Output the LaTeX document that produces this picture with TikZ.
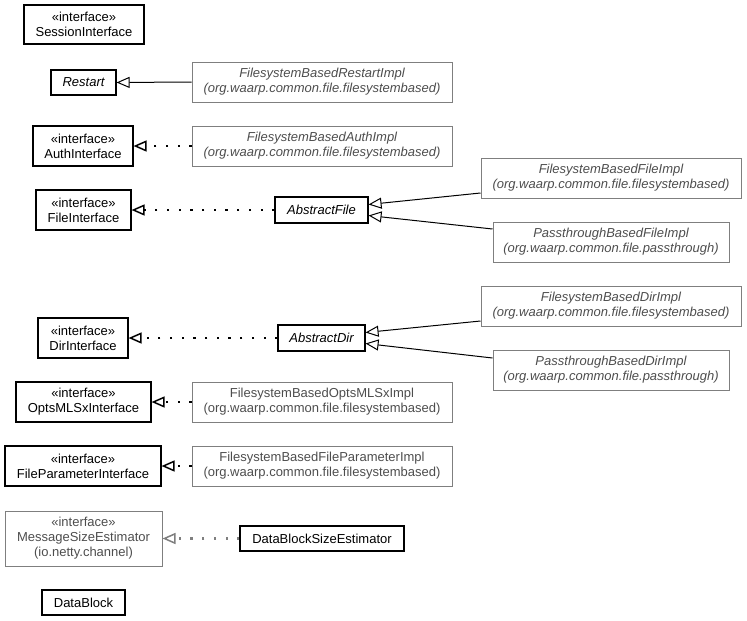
\documentclass[tikz,border=0pt]{standalone}
\usepackage{fontspec}
\setmainfont{Liberation Sans}
\usetikzlibrary{arrows.meta}
\definecolor{gbord}{HTML}{7F7F7F}
\definecolor{gtext}{HTML}{4D4D4D}
\tikzset{
  x=1pt, y=1pt,
  cls/.style={draw=black, line width=1.1pt, inner sep=0pt, align=center,
    font=\fontsize{13}{15}\selectfont, text=black},
  ext/.style={draw=gbord, line width=1pt, inner sep=0pt, align=center,
    font=\fontsize{13}{15}\selectfont, text=gtext},
  inh/.style={draw=black, line width=1pt,
    -{Triangle[open, length=13pt, width=11pt, line width=1pt]}},
  real/.style={draw=black, line width=2.2pt, dash pattern=on 2.2pt off 9.5pt,
    -{Triangle[open, length=13pt, width=11pt, line width=1.5pt]}},
  grealz/.style={draw=gbord, line width=2.2pt, dash pattern=on 2.2pt off 9.5pt,
    -{Triangle[open, length=13pt, width=11pt, line width=1.5pt]}},
}
\begin{document}
\begin{tikzpicture}
\useasboundingbox (0,0) rectangle (747,-621);
% left column
\node[cls, minimum width=120, minimum height=39] (sess) at (84,-24.5) {«interface»\\SessionInterface};
\node[cls, minimum width=65, minimum height=25] (restart) at (83.5,-82.5) {\itshape Restart};
\node[cls, minimum width=100, minimum height=40] (auth) at (83,-146) {«interface»\\AuthInterface};
\node[cls, minimum width=95, minimum height=40] (fileif) at (83.5,-210) {«interface»\\FileInterface};
\node[cls, minimum width=90, minimum height=40] (dirif) at (83,-338) {«interface»\\DirInterface};
\node[cls, minimum width=135, minimum height=40] (opts) at (83.5,-402) {«interface»\\OptsMLSxInterface};
\node[cls, minimum width=156, minimum height=40] (fparam) at (83,-466) {«interface»\\FileParameterInterface};
\node[ext, minimum width=157, minimum height=55] (mse) at (83.5,-538.5) {«interface»\\MessageSizeEstimator\\(io.netty.channel)};
\node[cls, minimum width=83, minimum height=25] (datablock) at (83.5,-602.5) {DataBlock};
% middle column
\node[ext, minimum width=260, minimum height=40] (restartimpl) at (322,-82) {\itshape FilesystemBasedRestartImpl\\\itshape (org.waarp.common.file.filesystembased)};
\node[ext, minimum width=260, minimum height=40] (authimpl) at (322,-146) {\itshape FilesystemBasedAuthImpl\\\itshape (org.waarp.common.file.filesystembased)};
\node[cls, minimum width=93, minimum height=26] (absfile) at (321.5,-210) {\itshape AbstractFile};
\node[cls, minimum width=87, minimum height=26] (absdir) at (321.5,-338) {\itshape AbstractDir};
\node[ext, minimum width=260, minimum height=40] (optsimpl) at (322,-402) {FilesystemBasedOptsMLSxImpl\\(org.waarp.common.file.filesystembased)};
\node[ext, minimum width=260, minimum height=40] (fparamimpl) at (322,-466) {FilesystemBasedFileParameterImpl\\(org.waarp.common.file.filesystembased)};
\node[cls, minimum width=164, minimum height=25] (dbse) at (322,-538.5) {DataBlockSizeEstimator};
% right column
\node[ext, minimum width=260, minimum height=40] (fsfile) at (611,-178) {\itshape FilesystemBasedFileImpl\\\itshape (org.waarp.common.file.filesystembased)};
\node[ext, minimum width=236, minimum height=40] (ptfile) at (611,-242) {\itshape PassthroughBasedFileImpl\\\itshape (org.waarp.common.file.passthrough)};
\node[ext, minimum width=260, minimum height=40] (fsdir) at (611,-306) {\itshape FilesystemBasedDirImpl\\\itshape (org.waarp.common.file.filesystembased)};
\node[ext, minimum width=236, minimum height=40] (ptdir) at (611,-370) {\itshape PassthroughBasedDirImpl\\\itshape (org.waarp.common.file.passthrough)};
% connectors
\draw[inh] (restartimpl.west) -- (restart.east);
\draw[real] (authimpl.west) -- (auth.east);
\draw[real] (absfile.west) -- (fileif.east);
\draw[real] (absdir.west) -- (dirif.east);
\draw[real] (optsimpl.west) -- (opts.east);
\draw[real] (fparamimpl.west) -- (fparam.east);
\draw[grealz] (dbse.west) -- (mse.east);
\draw[inh] ([yshift=-15pt]fsfile.west) -- ([yshift=5.5pt]absfile.east);
\draw[inh] ([yshift=13pt]ptfile.west) -- ([yshift=-5.5pt]absfile.east);
\draw[inh] ([yshift=-15pt]fsdir.west) -- ([yshift=5.5pt]absdir.east);
\draw[inh] ([yshift=12pt]ptdir.west) -- ([yshift=-5.5pt]absdir.east);
\end{tikzpicture}
\end{document}
